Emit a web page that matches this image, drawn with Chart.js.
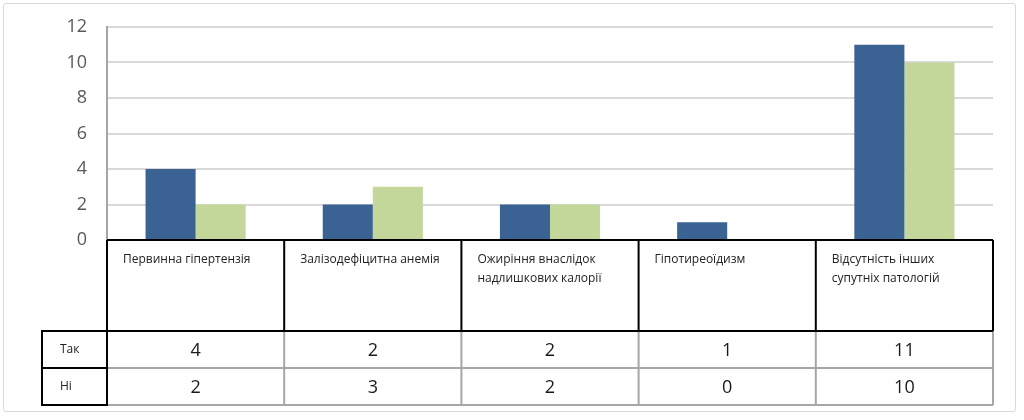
<!DOCTYPE html>
<html><head><meta charset="utf-8">
<script src="https://cdn.jsdelivr.net/npm/chart.js@4.4.1/dist/chart.umd.min.js"></script>
<style>
html,body{margin:0;padding:0;background:#fff;}
#wrap{position:relative;width:1024px;height:420px;}
#frame{position:absolute;left:3px;top:3px;width:1011px;height:407px;border:1px solid #d9d9d9;border-radius:3px;pointer-events:none;}
canvas{position:absolute;left:0;top:0;}
</style>
</head><body>
<div id="wrap">
<canvas id="c" width="1024" height="420"></canvas>
<div id="frame"></div>
</div>
<script>
const categories = [
  ["Первинна гіпертензія"],
  ["Залізодефіцитна анемія"],
  ["Ожиріння внаслідок", "надлишкових калорії"],
  ["Гіпотиреоїдизм"],
  ["Відсутність інших", "супутніх патологій"]
];
const seriesNames = ["Так", "Ні"];
const yesValues = [4, 2, 2, 1, 11];
const noValues = [2, 3, 2, 0, 10];
const yTicks = [0, 2, 4, 6, 8, 10, 12];

const seriesValues = [yesValues, noValues];
const FONT = "'Open Sans', Lato, sans-serif";

const tablePlugin = {
  id: 'dataTable',
  afterDraw(chart) {
    const ctx = chart.ctx;
    const area = chart.chartArea;
    const xs = chart.scales.x;
    const n = categories.length;
    const step = (area.right - area.left) / n;
    const edges = [];
    for (let i = 0; i < n; i++) edges.push(xs.getPixelForValue(i) - step / 2);
    edges.push(xs.getPixelForValue(n - 1) + step / 2);
    const top = area.bottom;
    const headH = 91;
    const rowH = 37;
    const labelLeft = 42;
    ctx.save();
    ctx.strokeStyle = '#a6a6a6';
    ctx.lineWidth = 2;
    ctx.beginPath();
    for (let r = 1; r <= seriesNames.length; r++) {
      const y = top + headH + r * rowH;
      ctx.moveTo(edges[0], y); ctx.lineTo(edges[n], y);
    }
    for (let i = 1; i <= n; i++) {
      ctx.moveTo(edges[i], top + headH); ctx.lineTo(edges[i], top + headH + seriesNames.length * rowH);
    }
    ctx.stroke();
    ctx.strokeStyle = '#000';
    ctx.lineWidth = 2;
    ctx.beginPath();
    ctx.moveTo(edges[0], top); ctx.lineTo(edges[n], top);
    ctx.moveTo(edges[0], top + headH); ctx.lineTo(edges[n], top + headH);
    for (let i = 0; i <= n; i++) { ctx.moveTo(edges[i], top); ctx.lineTo(edges[i], top + headH); }
    ctx.rect(labelLeft, top + headH, edges[0] - labelLeft, seriesNames.length * rowH);
    for (let r = 1; r < seriesNames.length; r++) {
      const y = top + headH + r * rowH;
      ctx.moveTo(labelLeft, y); ctx.lineTo(edges[0], y);
    }
    ctx.stroke();
    ctx.fillStyle = '#222';
    ctx.font = '12px ' + FONT;
    ctx.textAlign = 'left';
    ctx.textBaseline = 'middle';
    categories.forEach((lines, i) => {
      lines.forEach((ln, k) => ctx.fillText(ln, edges[i] + 16, top + 20 + k * 19));
    });
    seriesNames.forEach((s, r) => ctx.fillText(s, labelLeft + 18, top + headH + r * rowH + rowH / 2));
    ctx.font = '18px ' + FONT;
    ctx.fillStyle = '#1a1a1a';
    ctx.textAlign = 'center';
    seriesValues.forEach((vals, r) => {
      vals.forEach((v, i) => ctx.fillText(String(v), xs.getPixelForValue(i), top + headH + r * rowH + rowH / 2 + 1));
    });
    ctx.restore();
  }
};

new Chart(document.getElementById('c'), {
  type: 'bar',
  data: {
    labels: categories,
    datasets: [
      { label: seriesNames[0], data: yesValues, backgroundColor: '#3a6293', barPercentage: 1, categoryPercentage: 0.565 },
      { label: seriesNames[1], data: noValues, backgroundColor: '#c4d79b', barPercentage: 1, categoryPercentage: 0.565 }
    ]
  },
  options: {
    responsive: false,
    animation: false,
    layout: { padding: { left: 0, top: 27, right: 31, bottom: 180 } },
    plugins: { legend: { display: false }, tooltip: { enabled: false } },
    scales: {
      x: { display: false },
      y: {
        min: 0, max: 12,
        afterFit(s) { s.width = 107; s.paddingTop = 0; s.paddingBottom = 0; },
        afterBuildTicks(s) { s.ticks = yTicks.map(v => ({ value: v })); },
        ticks: { color: '#595959', padding: 20, font: { size: 18, family: FONT } },
        grid: { color: '#d9d9d9', lineWidth: 2, drawTicks: false },
        border: { color: '#a6a6a6', width: 2 }
      }
    }
  },
  plugins: [tablePlugin]
});
</script>
</body></html>
